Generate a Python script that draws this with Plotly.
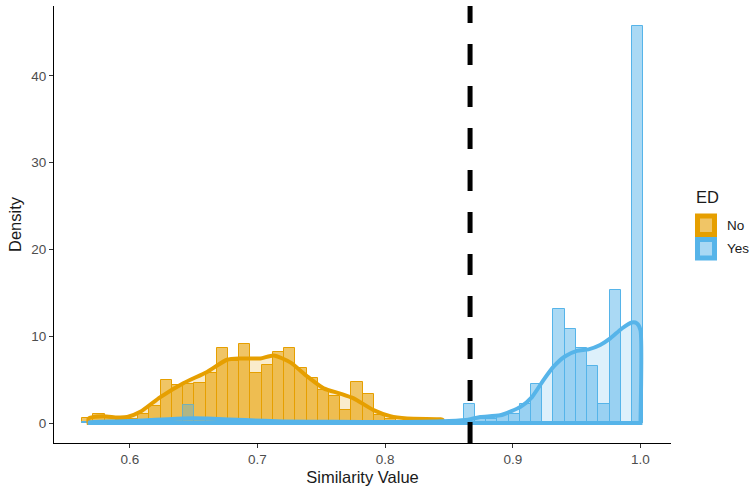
import plotly.graph_objects as go

# ---- histogram data: density per bin (50 equal bins) ----
BIN_START = 0.5626
BIN_WIDTH = 0.00879

density_no = [0.6, 1.1, 0.6, 0.4, 0.5, 1.0, 2.0, 5.0, 4.4, 4.5,
              4.65, 5.8, 8.6, 7.15, 9.1, 5.8, 6.7, 8.25, 8.6, 6.3,
              5.2, 3.8, 3.1, 1.5, 4.7, 3.4, 0.9, 0.5, 0.3, 0.2,
              0.1, 0.4, 0, 0, 0, 0, 0, 0, 0, 0,
              0, 0, 0, 0, 0, 0, 0, 0, 0, 0]
density_yes = [0.1, 0.1, 0.1, 0.2, 0.2, 0.3, 0.3, 0.4, 0.5, 2.1,
               0.4, 0.5, 0.3, 0.3, 0.3, 0.2, 0.2, 0.2, 0.2, 0.2,
               0.1, 0.1, 0.1, 0.1, 0.1, 0.1, 0.1, 0.1, 0.1, 0.1,
               0.1, 0.2, 0.2, 0.3, 2.15, 0.5, 0.5, 0.9, 1.0, 2.2,
               4.5, 0, 13.1, 10.9, 8.7, 6.57, 2.15, 15.3, 0, 45.8]

# ---- kernel density estimates (x, density) ----
kde_no_x = [0.5677, 0.5792, 0.5902, 0.598, 0.6082, 0.6239, 0.6419, 0.6605,
            0.6761, 0.6865, 0.7022, 0.7126, 0.7257, 0.7388, 0.7518, 0.7648,
            0.7753, 0.7909, 0.804, 0.8171, 0.8431, 0.845]
kde_no_y = [0.54, 0.8, 0.65, 0.7, 1.3, 3.0, 4.6, 5.9,
            7.3, 7.45, 7.45, 7.8, 7.0, 5.4, 4.0, 3.4,
            2.85, 1.5, 0.8, 0.54, 0.45, 0.4]

kde_yes_x = [0.5685, 0.59, 0.61, 0.63, 0.65, 0.665, 0.69, 0.72, 0.76, 0.80,
             0.83, 0.85, 0.865, 0.8745, 0.8901, 0.9063, 0.915, 0.924, 0.9319,
             0.941, 0.9502, 0.9593, 0.9684, 0.9763, 0.9854, 0.9933, 0.9972, 1.0]
kde_yes_y = [0.1, 0.2, 0.3, 0.45, 0.55, 0.5, 0.35, 0.2, 0.15, 0.12,
             0.15, 0.25, 0.4, 0.7, 0.9, 1.9, 3.0, 4.96, 6.5,
             7.7, 8.33, 8.5, 9.0, 9.76, 10.9, 11.6, 11.5, 10.7]

THRESHOLD = 0.8665

groups = ["No", "Yes"]
line_colors = {"No": "#E69F00", "Yes": "#56B4E9"}
bar_fills = {"No": "rgba(230,159,0,0.6)", "Yes": "rgba(86,180,233,0.5)"}
kde_fills = {"No": "rgba(230,159,0,0.2)", "Yes": "rgba(86,180,233,0.2)"}
key_fills = {"No": "#F0C566", "Yes": "#A9D8F4"}

centers = [BIN_START + BIN_WIDTH * (i + 0.5) for i in range(len(density_no))]
hist_values = {"No": density_no, "Yes": density_yes}
kde_values = {"No": (kde_no_x, kde_no_y), "Yes": (kde_yes_x, kde_yes_y)}

FONT = "Liberation Sans, Arial, sans-serif"

fig = go.Figure()

# histograms
for g in groups:
    fig.add_trace(go.Bar(
        x=centers, y=hist_values[g], width=BIN_WIDTH,
        marker=dict(color=bar_fills[g], line=dict(color=line_colors[g], width=1)),
        showlegend=False, hoverinfo="skip"))

# density polygons (closed down to the baseline)
for g in groups:
    xs, ys = kde_values[g]
    px = [xs[0], xs[0]] + xs + [xs[-1], xs[-1], xs[0]]
    py = [0, 0] + ys + [0, 0, 0]
    fig.add_trace(go.Scatter(
        x=px, y=py, mode="lines", fill="toself", fillcolor=kde_fills[g],
        line=dict(color=line_colors[g], width=4, shape="spline", smoothing=0.6),
        showlegend=False, hoverinfo="skip"))

# threshold line
fig.add_shape(type="line", xref="x", yref="paper", x0=THRESHOLD, x1=THRESHOLD,
              y0=0, y1=1, line=dict(color="black", width=5, dash="21px,21px"))

# legend drawn by hand
L, R, T, B = 54, 85, 6, 51
W, H = 756, 494
pw, ph = W - L - R, H - T - B


def pxx(v):
    return (v - L) / pw


def pxy(v):
    return (H - B - v) / ph


key_top = 213.5
key_size = 23.5
for k, g in enumerate(groups):
    y0 = key_top + k * key_size
    fig.add_shape(type="rect", xref="paper", yref="paper",
                  x0=pxx(697.5), x1=pxx(714.5), y0=pxy(y0 + 2.5), y1=pxy(y0 + key_size - 2.5),
                  fillcolor=key_fills[g], line=dict(color=line_colors[g], width=5))
    fig.add_annotation(text=g, xref="paper", yref="paper", x=pxx(724.5), y=pxy(y0 + key_size / 2),
                       xanchor="left", yanchor="middle", showarrow=False,
                       font=dict(size=13.5, color="#1A1A1A", family=FONT))
fig.add_annotation(text="ED", xref="paper", yref="paper", x=pxx(694), y=pxy(197),
                   xanchor="left", yanchor="middle", showarrow=False,
                   font=dict(size=16.5, color="#1A1A1A", family=FONT))

fig.update_layout(
    width=W, height=H, margin=dict(l=L, r=R, t=T, b=B, autoexpand=False),
    paper_bgcolor="white", plot_bgcolor="white",
    barmode="overlay", bargap=0,
    font=dict(family=FONT, color="#1A1A1A"),
    xaxis=dict(range=[0.5406, 1.0239], showgrid=False, zeroline=False,
               showline=True, linecolor="black", linewidth=1,
               ticks="outside", ticklen=4, tickcolor="#333333",
               tickvals=[0.6, 0.7, 0.8, 0.9, 1.0], tickformat=".1f",
               tickfont=dict(size=13.5, color="#4D4D4D"),
               title=dict(text="Similarity Value", font=dict(size=16.5, color="#1A1A1A"), standoff=5),
               automargin=False),
    yaxis=dict(range=[-2.29, 48.05], showgrid=False, zeroline=False,
               showline=True, linecolor="black", linewidth=1,
               ticks="outside", ticklen=4, tickcolor="#333333",
               tickvals=[0, 10, 20, 30, 40],
               tickfont=dict(size=13.5, color="#4D4D4D"),
               title=dict(text="Density", font=dict(size=16.5, color="#1A1A1A"), standoff=5),
               automargin=False),
)

fig.write_html("out.html")
